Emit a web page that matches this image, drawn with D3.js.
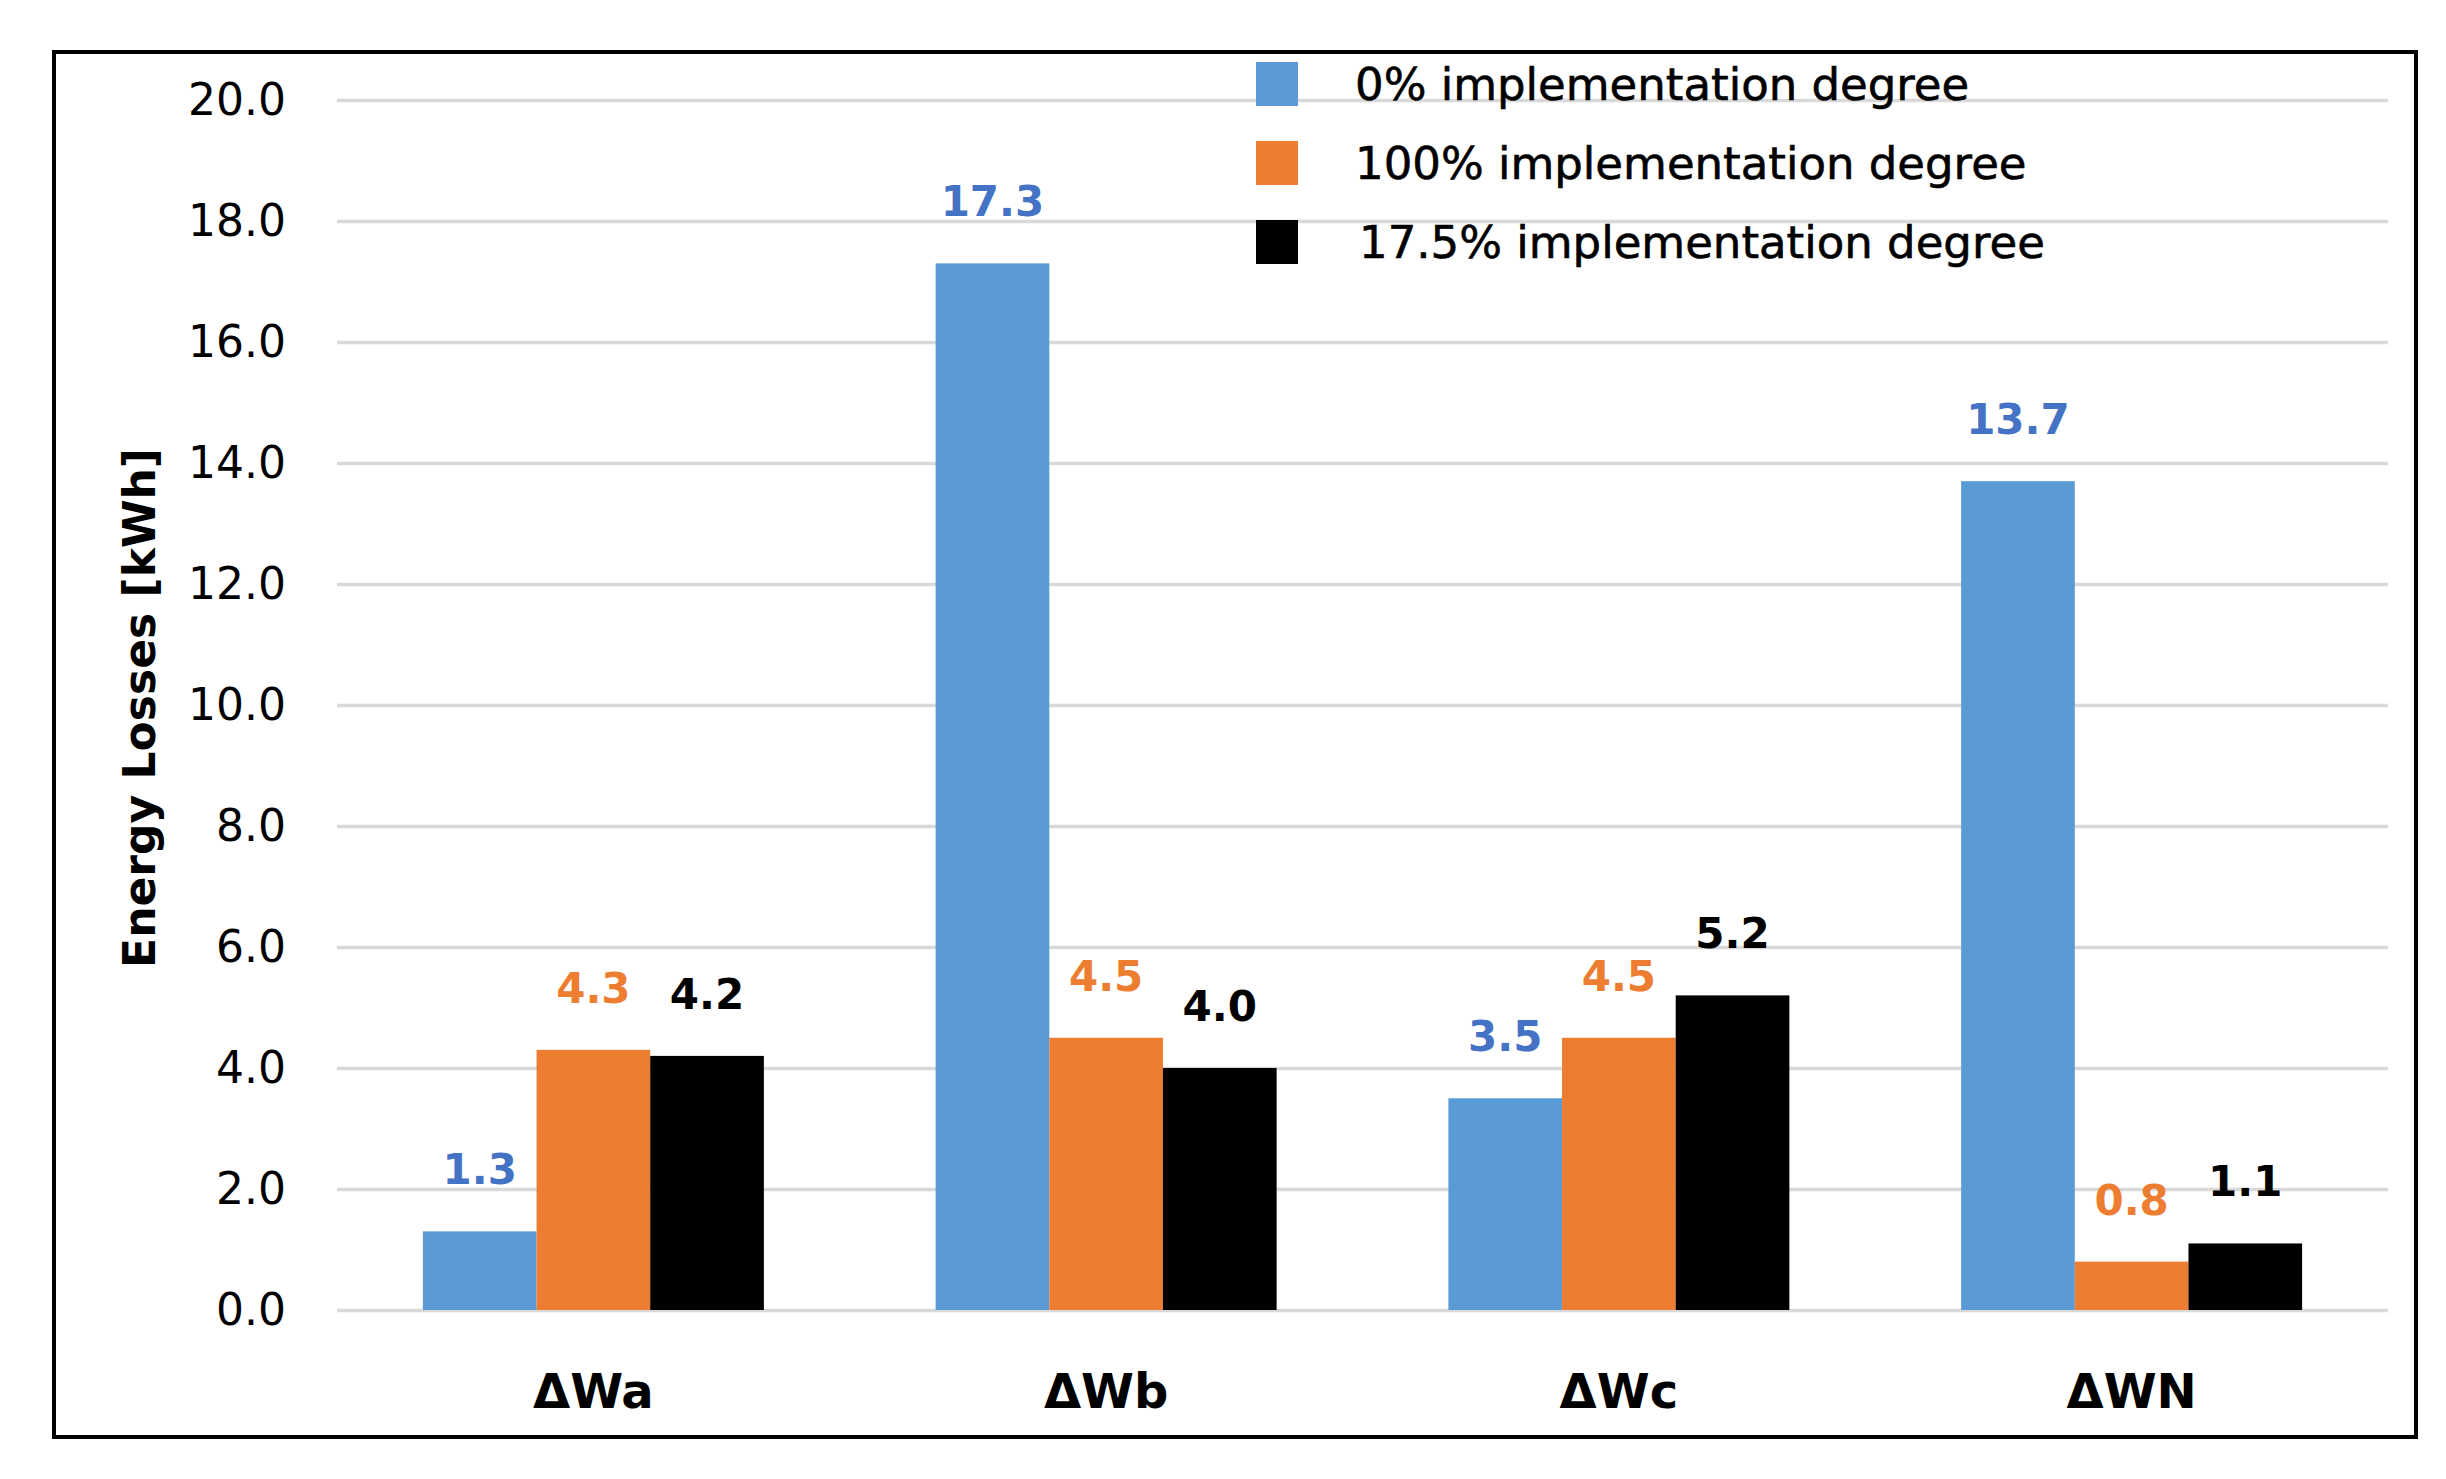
<!DOCTYPE html>
<html>
<head>
<script src="https://d3js.org/d3.v7.min.js"></script>
<style>
  body { margin: 0; background: #fff; }
  text { font-family: "DejaVu Sans", sans-serif; }
</style>
</head>
<body>
<svg width="2446" height="1479" id="chart"></svg>
<script>
// data
const categories = ["ΔWa", "ΔWb", "ΔWc", "ΔWN"];
const seriesNames = ["0% implementation degree", "100% implementation degree", "17.5% implementation degree"];
const values0 = [1.3, 17.3, 3.5, 13.7];
const values100 = [4.3, 4.5, 4.5, 0.8];
const values175 = [4.2, 4.0, 5.2, 1.1];
const yTicks = [0, 2, 4, 6, 8, 10, 12, 14, 16, 18, 20];

const seriesValues = [values0, values100, values175];
const barColors = ["#5B9BD5", "#ED7D31", "#000000"];
const labelColors = ["#4472C4", "#ED7D31", "#000000"];

let svg = d3.select("#chart");

// frame around the whole chart
svg.append("rect")
    .attr("x", 54).attr("y", 52)
    .attr("width", 2362).attr("height", 1385)
    .attr("fill", "none").attr("stroke", "#000").attr("stroke-width", 4);

const plotLeft = 337, plotRight = 2388, plotTop = 100, plotBottom = 1310;

let x = d3.scaleBand().domain(categories).range([plotLeft, plotRight])
    .paddingInner(0.335).paddingOuter(0.1675);
let xs = d3.scaleBand().domain([0, 1, 2]).range([0, x.bandwidth()]);
let y = d3.scaleLinear().domain([0, 20]).range([plotBottom, plotTop]);

// gridlines + tick labels
let yAxis = svg.append("g")
    .attr("transform", `translate(${plotLeft},0)`)
    .call(d3.axisLeft(y).tickValues(yTicks).tickSize(-(plotRight - plotLeft))
        .tickPadding(51).tickFormat(d3.format(".1f")));
yAxis.select(".domain").remove();
yAxis.selectAll(".tick line").attr("stroke", "#D9D9D9").attr("stroke-width", 3.3);
yAxis.selectAll(".tick text")
    .attr("font-size", 44).attr("fill", "#000")
    .style("font-family", "'DejaVu Sans', sans-serif");

// bars
let rows = [];
categories.forEach((c, ci) => {
    seriesValues.forEach((vals, si) => rows.push({cat: c, s: si, v: vals[ci]}));
});

svg.append("g").selectAll("rect.bar").data(rows)
    .join("rect")
    .attr("class", "bar")
    .attr("x", d => x(d.cat) + xs(d.s))
    .attr("width", xs.bandwidth())
    .attr("y", d => y(d.v))
    .attr("height", d => y(0) - y(d.v))
    .attr("fill", d => barColors[d.s]);

// value labels
svg.append("g").selectAll("text").data(rows)
    .join("text")
    .attr("x", d => x(d.cat) + xs(d.s) + xs.bandwidth() / 2)
    .attr("y", d => y(d.v) - 47)
    .attr("text-anchor", "middle")
    .attr("font-size", 42).attr("font-weight", "bold")
    .attr("fill", d => labelColors[d.s])
    .text(d => d3.format(".1f")(d.v));

// category labels
svg.append("g").selectAll("text").data(categories)
    .join("text")
    .attr("x", d => x(d) + x.bandwidth() / 2)
    .attr("y", 1408)
    .attr("text-anchor", "middle")
    .attr("font-size", 48).attr("font-weight", "bold")
    .text(d => d);

// y title
svg.append("text")
    .attr("transform", "translate(139,708) rotate(-90)")
    .attr("text-anchor", "middle")
    .attr("dominant-baseline", "central")
    .attr("font-size", 44).attr("font-weight", "bold")
    .text("Energy Losses [kWh]");

// legend
let legend = svg.append("g").selectAll("g").data(seriesNames)
    .join("g")
    .attr("transform", (d, i) => `translate(1256,${62 + i * 79})`);
legend.append("rect")
    .attr("width", 42).attr("height", 44)
    .attr("fill", (d, i) => barColors[i]);
legend.append("text")
    .attr("x", (d, i) => i == 2 ? 103 : 99).attr("y", 38)
    .attr("font-size", 45)
    .attr("stroke", "#000").attr("stroke-width", 0.6)
    .text(d => d);
</script>
</body>
</html>
